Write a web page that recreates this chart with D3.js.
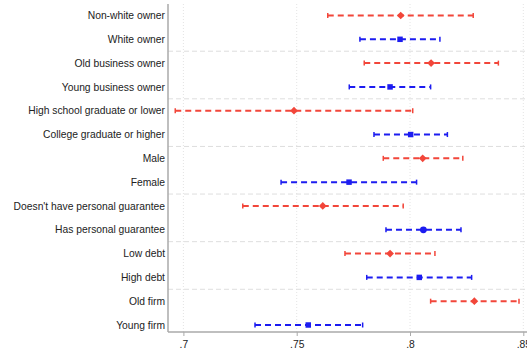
<!DOCTYPE html>
<html>
<head>
<meta charset="utf-8">
<script src="https://cdn.jsdelivr.net/npm/d3@7"></script>
<style>
  body { margin: 0; background: #fff; }
  text { font-family: "Liberation Sans", Arial, sans-serif; }
</style>
</head>
<body>
<svg width="527" height="352"></svg>
<script>
// The data
const labels = ["Non-white owner", "White owner", "Old business owner", "Young business owner",
    "High school graduate or lower", "College graduate or higher", "Male", "Female",
    "Doesn't have personal guarantee", "Has personal guarantee", "Low debt", "High debt",
    "Old firm", "Young firm"];
const estimates = [0.7959, 0.7956, 0.8093, 0.7912, 0.7488, 0.8003, 0.8056, 0.7731,
    0.7615, 0.8059, 0.7912, 0.8041, 0.8284, 0.7551];
const lower = [0.7637, 0.7779, 0.7798, 0.7732, 0.6964, 0.7841, 0.7882, 0.7431,
    0.7262, 0.7894, 0.7713, 0.7809, 0.8091, 0.7316];
const upper = [0.8279, 0.8132, 0.8390, 0.8091, 0.8012, 0.8165, 0.8233, 0.8029,
    0.7970, 0.8225, 0.8110, 0.8272, 0.8481, 0.7791];
const groups = ["red", "blue", "red", "blue", "red", "blue", "red", "blue",
    "red", "blue", "red", "blue", "red", "blue"];
const markers = ["diamond", "square", "diamond", "square", "diamond", "square", "diamond", "square",
    "diamond", "circle", "diamond", "square", "diamond", "square"];
const xTicks = [0.7, 0.75, 0.8, 0.85];
const xTickLabels = [".7", ".75", ".8", ".85"];

const svg = d3.select("svg");
const colors = { red: "#f2463a", blue: "#1c1cf0" };

const plotLeft = 168, plotBottom = 332, plotTop = 4;

const x = d3.scaleLinear().domain([0.7, 0.85]).range([183.4, 523.3]);
const y = d3.scalePoint().domain(labels).range([15.5, 325]);

// vertical grid
svg.append("g").selectAll("line")
    .data(xTicks)
    .join("line")
    .attr("x1", d => x(d)).attr("x2", d => x(d))
    .attr("y1", plotTop).attr("y2", plotBottom)
    .style("stroke", "#e4e4e4")
    .style("stroke-width", 1)
    .style("stroke-dasharray", "1,2");

// separators between pairs
const seps = d3.range(1, labels.length / 2);
svg.append("g").selectAll("line")
    .data(seps)
    .join("line")
    .attr("x1", plotLeft).attr("x2", 527)
    .attr("y1", d => (y(labels[2 * d - 1]) + y(labels[2 * d])) / 2)
    .attr("y2", d => (y(labels[2 * d - 1]) + y(labels[2 * d])) / 2)
    .style("stroke", "#dedede")
    .style("stroke-width", 1)
    .style("stroke-dasharray", "5,3");

// axes
const xAxis = d3.axisBottom(x).tickValues(xTicks)
    .tickFormat((d, i) => xTickLabels[i]).tickSize(4).tickSizeOuter(0);
const gx = svg.append("g").attr("transform", `translate(0,${plotBottom})`).call(xAxis);
gx.select(".domain").remove();
gx.selectAll(".tick line").style("stroke", "#aaa");
gx.selectAll(".tick text").attr("dy", "0.9em").style("font-size", "10.3px").style("fill", "#222");
svg.append("line").attr("x1", plotLeft).attr("x2", 527).attr("y1", plotBottom).attr("y2", plotBottom)
    .style("stroke", "#aaa").style("stroke-width", 1.5);
svg.append("line").attr("x1", plotLeft).attr("x2", plotLeft).attr("y1", plotTop).attr("y2", plotBottom)
    .style("stroke", "#aaa").style("stroke-width", 1.5);

// labels
svg.append("g").selectAll("text")
    .data(labels)
    .join("text")
    .attr("x", plotLeft - 3)
    .attr("y", d => y(d))
    .attr("dy", "0.35em")
    .attr("text-anchor", "end")
    .style("font-size", "10.3px")
    .style("fill", "#222")
    .text(d => d);

// error bars
const rows = labels.map((d, i) => ({ label: d, est: estimates[i], lo: lower[i], hi: upper[i], c: colors[groups[i]], m: markers[i] }));
const g = svg.append("g");
g.selectAll("line.ci")
    .data(rows)
    .join("line")
    .attr("class", "ci")
    .attr("x1", d => x(d.lo)).attr("x2", d => x(d.hi))
    .attr("y1", d => y(d.label)).attr("y2", d => y(d.label))
    .style("stroke", d => d.c)
    .style("stroke-width", 2)
    .style("stroke-dasharray", "6,4");
["lo", "hi"].forEach(k => {
    g.selectAll("line.cap-" + k)
        .data(rows)
        .join("line")
        .attr("class", "cap-" + k)
        .attr("x1", d => x(d[k])).attr("x2", d => x(d[k]))
        .attr("y1", d => y(d.label) - 2.5).attr("y2", d => y(d.label) + 2.5)
        .style("stroke", d => d.c)
        .style("stroke-width", 1.5);
});

// points: diamond is a rotated square
const shapes = { diamond: d3.symbolSquare, square: d3.symbolSquare, circle: d3.symbolCircle };
g.selectAll("path.pt")
    .data(rows)
    .join("path")
    .attr("class", "pt")
    .attr("transform", d => `translate(${x(d.est)},${y(d.label)})` + (d.m === "diamond" ? " rotate(45)" : ""))
    .attr("d", d => d3.symbol().type(shapes[d.m]).size(d.m === "circle" ? 36 : 30)())
    .style("fill", d => d.c);
</script>
</body>
</html>
